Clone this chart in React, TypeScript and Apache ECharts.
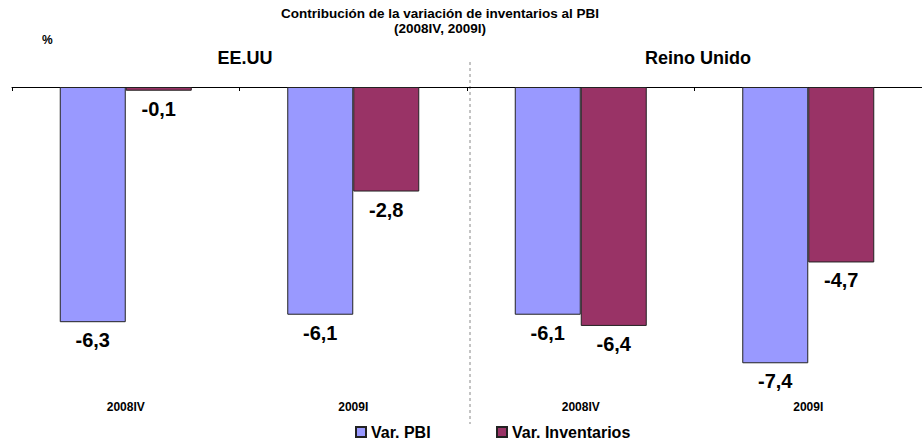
import React, { useEffect, useRef } from "react";
import * as echarts from "echarts";

const categories = ["2008IV", "2009I", "2008IV", "2009I"];
const varPBI = [-6.3, -6.1, -6.1, -7.4];
const varInventarios = [-0.1, -2.8, -6.4, -4.7];
const seriesNames = ["Var. PBI", "Var. Inventarios"];
const groupTitles = ["EE.UU", "Reino Unido"];
const titleLines = ["Contribución de la variación de inventarios al PBI", "(2008IV, 2009I)"];

const FONT = "'Liberation Sans', Arial, sans-serif";

export default function App() {
  const ref = useRef<HTMLDivElement>(null);
  useEffect(() => {
    if (!ref.current) return;
    const chart = echarts.init(ref.current, undefined, { renderer: "svg" });
    const labelStyle = {
      show: true,
      position: "bottom" as const,
      distance: 8,
      fontFamily: FONT,
      fontWeight: "bold" as const,
      fontSize: 20,
      color: "#000",
      formatter: (p: any) => String(p.value).replace(".", ","),
    };
    const titleText = (text: string, y: number) => ({
      type: "text",
      x: 440,
      y,
      style: {
        text,
        fontSize: 13.5,
        fontWeight: "bold",
        fill: "#000",
        align: "center",
        verticalAlign: "middle",
        fontFamily: FONT,
      },
    });
    chart.setOption({
      animation: false,
      backgroundColor: "#fff",
      textStyle: { fontFamily: FONT },
      graphic: [
        titleText(titleLines[0], 13),
        titleText(titleLines[1], 28),
        {
          type: "text",
          left: 42,
          top: 34,
          style: { text: "%", fontSize: 12, fontWeight: "bold", fill: "#000", fontFamily: FONT },
        },
        {
          type: "text",
          x: 245,
          y: 58,
          style: {
            text: groupTitles[0],
            fontSize: 18,
            fontWeight: "bold",
            fill: "#000",
            align: "center",
            verticalAlign: "middle",
            fontFamily: FONT,
          },
        },
        {
          type: "text",
          x: 698,
          y: 58,
          style: {
            text: groupTitles[1],
            fontSize: 18,
            fontWeight: "bold",
            fill: "#000",
            align: "center",
            verticalAlign: "middle",
            fontFamily: FONT,
          },
        },
        {
          type: "line",
          shape: { x1: 470, y1: 62, x2: 470, y2: 424 },
          style: { stroke: "#888", lineWidth: 1, lineDash: [3, 3] },
          silent: true,
        },
      ],
      legend: [
        {
          data: [seriesNames[0]],
          left: 350,
          top: 419,
          icon: "rect",
          itemWidth: 10,
          itemHeight: 10,
          itemGap: 5,
          textStyle: { fontSize: 16, fontWeight: "bold", color: "#000", fontFamily: FONT },
        },
        {
          data: [seriesNames[1]],
          left: 491,
          top: 419,
          icon: "rect",
          itemWidth: 10,
          itemHeight: 10,
          itemGap: 5,
          textStyle: { fontSize: 16, fontWeight: "bold", color: "#000", fontFamily: FONT },
        },
      ],
      grid: { left: 12, right: 0, top: 87, bottom: 46 },
      xAxis: [
        {
          type: "category",
          data: categories,
          position: "top",
          axisLine: { show: true, onZero: false, lineStyle: { color: "#000", width: 1 } },
          axisTick: { show: true, inside: true, length: 4, interval: 0, lineStyle: { color: "#000" } },
          axisLabel: { show: false },
        },
        {
          type: "category",
          data: categories,
          position: "bottom",
          axisLine: { show: false },
          axisTick: { show: false },
          axisLabel: { show: true, fontSize: 12, fontWeight: "bold", color: "#000", margin: 6, fontFamily: FONT },
        },
      ],
      yAxis: {
        type: "value",
        min: -8.25,
        max: 0,
        show: false,
        splitLine: { show: false },
      },
      series: [
        {
          name: seriesNames[0],
          type: "bar",
          data: varPBI,
          xAxisIndex: 0,
          barWidth: 66,
          barGap: "0%",
          itemStyle: { color: "#9999FF", borderColor: "#222", borderWidth: 1 },
          label: labelStyle,
        },
        {
          name: seriesNames[1],
          type: "bar",
          data: varInventarios,
          xAxisIndex: 0,
          barWidth: 66,
          barGap: "0%",
          itemStyle: { color: "#993366", borderColor: "#222", borderWidth: 1 },
          label: labelStyle,
        },
      ],
    });
    return () => chart.dispose();
  }, []);
  return (
    <div
      ref={ref}
      style={{ position: "fixed", left: 0, top: 0, width: 922, height: 441 }}
    />
  );
}
